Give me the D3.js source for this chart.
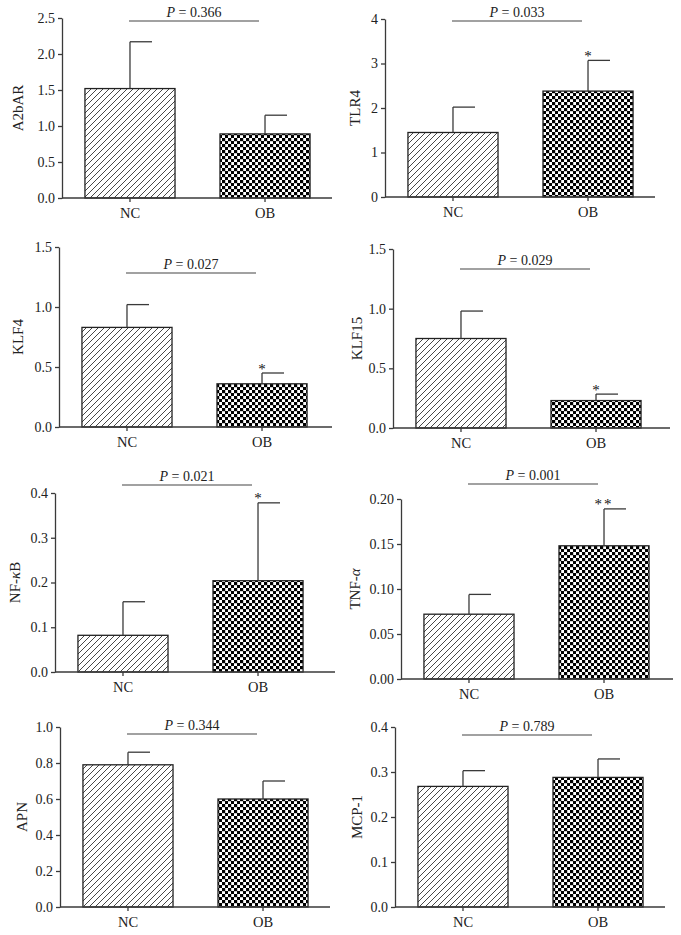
<!DOCTYPE html>
<html>
<head>
<meta charset="utf-8">
<script src="https://cdn.jsdelivr.net/npm/d3@7/dist/d3.min.js"></script>
<style>
  html, body { margin: 0; padding: 0; background: #fff; }
  svg { display: block; font-family: "Liberation Serif", "Times New Roman", serif; }
</style>
</head>
<body>
<svg id="chart" width="681" height="935"></svg>
<script>
// ---- data ----
const genes   = ["A2bAR", "TLR4", "KLF4", "KLF15", "NF-κB", "TNF-α", "APN", "MCP-1"];
const groups  = ["NC", "OB"];
const ncMean  = [1.52, 1.45, 0.83, 0.75, 0.082, 0.072, 0.79, 0.268];
const ncErr   = [0.65, 0.57, 0.19, 0.23, 0.075, 0.022, 0.07, 0.035];
const obMean  = [0.89, 2.38, 0.36, 0.23, 0.204, 0.148, 0.60, 0.288];
const obErr   = [0.26, 0.69, 0.09, 0.054, 0.174, 0.041, 0.10, 0.041];
const pValues = ["0.366", "0.033", "0.027", "0.029", "0.021", "0.001", "0.344", "0.789"];
const stars   = ["", "*", "*", "*", "*", "**", "", ""];
const yTicks  = [
  [0, 0.5, 1.0, 1.5, 2.0, 2.5],
  [0, 1, 2, 3, 4],
  [0, 0.5, 1.0, 1.5],
  [0, 0.5, 1.0, 1.5],
  [0, 0.1, 0.2, 0.3, 0.4],
  [0, 0.05, 0.10, 0.15, 0.20],
  [0, 0.2, 0.4, 0.6, 0.8, 1.0],
  [0, 0.1, 0.2, 0.3, 0.4]
];
const tickFormats = [".1f", "d", ".1f", ".1f", ".1f", ".2f", ".1f", ".1f"];

// ---- layout (pixels) : axisX, topY, zeroY, xLen, pLineY, labelX ----
const layout = [
  [62, 18, 198, 270, 21, 18],
  [385, 19, 197, 270, 21, 355],
  [59, 247, 427, 273, 273, 18],
  [393, 249, 428, 277, 269, 357],
  [55, 493, 672, 280, 485, 15],
  [401, 499, 679, 272, 484, 355],
  [60, 727, 907, 270, 734, 22],
  [395, 727, 907, 270, 735, 357]
];

const ink = "#222";
const axisCol = "#3a3a3a";
const svg = d3.select("#chart");

// patterns
const defs = svg.append("defs");
const hatch = defs.append("pattern").attr("id", "hatch")
  .attr("patternUnits", "userSpaceOnUse").attr("width", 6).attr("height", 6);
hatch.append("rect").attr("width", 6).attr("height", 6).attr("fill", "#fff");
hatch.append("path").attr("d", "M0,6 L6,0 M-1.5,1.5 L1.5,-1.5 M4.5,7.5 L7.5,4.5")
  .attr("stroke", "#333").attr("stroke-width", 0.9);
const check = defs.append("pattern").attr("id", "check")
  .attr("patternUnits", "userSpaceOnUse").attr("width", 6).attr("height", 6);
check.append("rect").attr("width", 6).attr("height", 6).attr("fill", "#fff");
check.append("rect").attr("width", 3.2).attr("height", 3.2).attr("fill", "#000");
check.append("rect").attr("x", 3).attr("y", 3).attr("width", 3.2).attr("height", 3.2).attr("fill", "#000");

genes.forEach((gene, i) => {
  const [ax, top, zero, xLen, pY, labX] = layout[i];
  const g = svg.append("g");
  const ticks = yTicks[i];
  const y = d3.scaleLinear().domain([0, ticks[ticks.length - 1]]).range([zero, top]);
  const x = d3.scaleBand().domain(groups).range([ax, ax + 271])
    .paddingInner(0.333).paddingOuter(0.17);
  const bw = x.bandwidth();

  const rows = [
    { grp: "NC", mean: ncMean[i], err: ncErr[i], fill: "url(#hatch)", star: "" },
    { grp: "OB", mean: obMean[i], err: obErr[i], fill: "url(#check)", star: stars[i] }
  ];

  // bars
  g.selectAll("rect.bar").data(rows).enter().append("rect")
    .attr("class", "bar")
    .attr("x", d => x(d.grp))
    .attr("y", d => y(d.mean))
    .attr("width", bw)
    .attr("height", d => y(0) - y(d.mean))
    .attr("fill", d => d.fill)
    .attr("stroke", ink).attr("stroke-width", 1.3);

  // error bars (one-sided cap to the right)
  rows.forEach(d => {
    const cx = x(d.grp) + bw / 2;
    g.append("line").attr("x1", cx).attr("x2", cx)
      .attr("y1", y(d.mean)).attr("y2", y(d.mean + d.err))
      .attr("stroke", axisCol).attr("stroke-width", 1.3);
    g.append("line").attr("x1", cx).attr("x2", cx + 22)
      .attr("y1", y(d.mean + d.err)).attr("y2", y(d.mean + d.err))
      .attr("stroke", axisCol).attr("stroke-width", 1.3);
    if (d.star) {
      g.append("text").attr("x", cx).attr("y", y(d.mean + d.err) + 0.5)
        .attr("text-anchor", "middle").attr("font-size", 15).attr("fill", "#111")
        .attr("letter-spacing", d.star.length > 1 ? 2 : 0)
        .text(d.star);
    }
  });

  // y axis
  const yAxis = d3.axisLeft(y).tickValues(ticks).tickFormat(d3.format(tickFormats[i]))
    .tickSize(4).tickSizeOuter(0).tickPadding(3);
  const ya = g.append("g").attr("transform", `translate(${ax},0)`).call(yAxis);
  ya.select(".domain").attr("stroke", axisCol).attr("stroke-width", 1.3);
  ya.selectAll(".tick line").attr("stroke", axisCol).attr("stroke-width", 1.3);
  ya.selectAll(".tick text").attr("font-size", 14).attr("fill", ink)
    .attr("font-family", "Liberation Serif, Times New Roman, serif");

  // x axis
  const xAxis = d3.axisBottom(x).tickSize(4).tickSizeOuter(0).tickPadding(6);
  const xa = g.append("g").attr("transform", `translate(0,${zero})`).call(xAxis);
  xa.select(".domain").remove();
  xa.append("line").attr("x1", ax).attr("x2", ax + xLen).attr("y1", 0).attr("y2", 0)
    .attr("stroke", axisCol).attr("stroke-width", 1.3);
  xa.selectAll(".tick line").attr("stroke", axisCol).attr("stroke-width", 1.3);
  xa.selectAll(".tick text").attr("font-size", 14.5).attr("fill", ink)
    .attr("font-family", "Liberation Serif, Times New Roman, serif");

  // y label
  const lab = g.append("text")
    .attr("transform", `translate(${labX + 5},${(top + zero) / 2}) rotate(-90)`)
    .attr("text-anchor", "middle").attr("font-size", 15).attr("fill", ink);
  const m = gene.match(/^(.*?)([κα])(.*)$/);
  if (m) {
    lab.append("tspan").text(m[1]);
    lab.append("tspan").attr("font-style", "italic").text(m[2]);
    lab.append("tspan").text(m[3]);
  } else {
    lab.text(gene);
  }

  // P value bracket
  const x1 = x("NC") + bw / 2 - 1, x2 = x("OB") + bw / 2 - 6;
  g.append("line").attr("x1", x1).attr("x2", x2).attr("y1", pY).attr("y2", pY)
    .attr("stroke", "#444").attr("stroke-width", 1.2);
  const pt = g.append("text").attr("x", (x1 + x2) / 2).attr("y", pY - 4)
    .attr("text-anchor", "middle").attr("font-size", 14).attr("fill", ink);
  pt.append("tspan").attr("font-style", "italic").text("P");
  pt.append("tspan").text(" = " + pValues[i]);
});
</script>
</body>
</html>
